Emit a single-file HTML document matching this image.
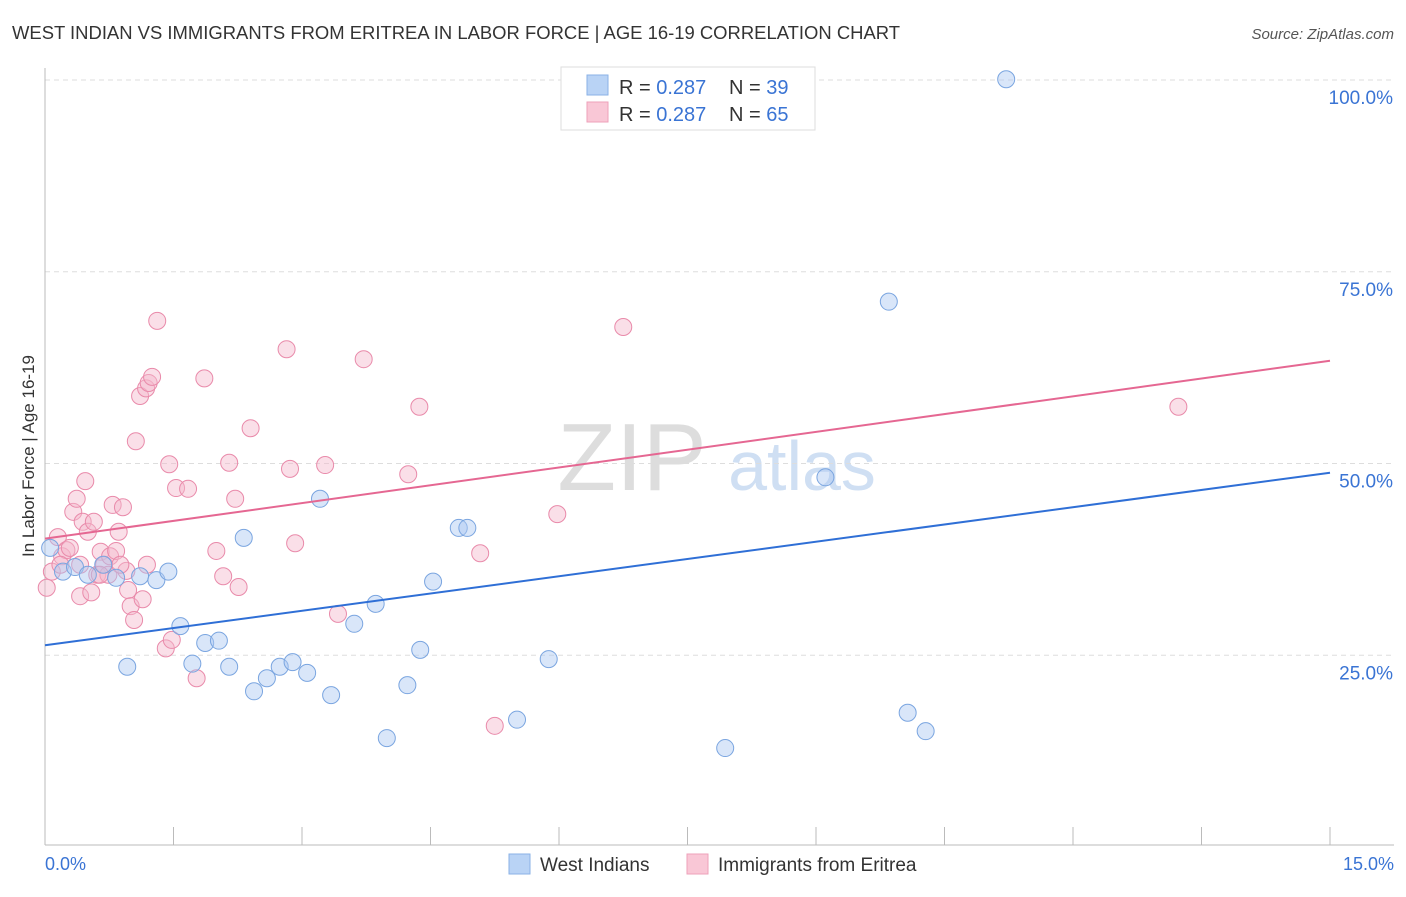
<!DOCTYPE html>
<html><head><meta charset="utf-8"><style>
body{margin:0;background:#fff;font-family:"Liberation Sans",sans-serif;}
svg text{font-family:"Liberation Sans",sans-serif;}
</style></head><body>
<svg id="chart" width="1406" height="892" xmlns="http://www.w3.org/2000/svg">
<text x="12" y="39" font-size="18" fill="#333" textLength="888" lengthAdjust="spacingAndGlyphs">WEST INDIAN VS IMMIGRANTS FROM ERITREA IN LABOR FORCE | AGE 16-19 CORRELATION CHART</text>
<text x="1394" y="39" font-size="15" fill="#555" text-anchor="end" font-style="italic">Source: ZipAtlas.com</text>
<text transform="translate(34,456) rotate(-90)" font-size="17" fill="#333" text-anchor="middle">In Labor Force | Age 16-19</text>
<g>
<text x="632" y="490" font-size="96" fill="#ddd" text-anchor="middle" font-family="Liberation Serif">ZIP</text>
<text x="802" y="490" font-size="70" fill="#cfdff3" text-anchor="middle">atlas</text>
</g>
<g id="grid"></g><g id="axes"></g><g id="pts"></g><g id="lines"></g>
<g>
<rect x="561" y="67" width="254" height="63" fill="#fff" stroke="#ddd"/>
<rect x="587" y="75" width="21" height="20" fill="#b9d3f5" stroke="#8ab2e6"/>
<rect x="587" y="102" width="21" height="20" fill="#f9c7d6" stroke="#eea0ba"/>
<text x="619" y="94" font-size="20" fill="#333">R = <tspan fill="#3a74d4">0.287</tspan></text>
<text x="729" y="94" font-size="20" fill="#333">N = <tspan fill="#3a74d4">39</tspan></text>
<text x="619" y="121" font-size="20" fill="#333">R = <tspan fill="#3a74d4">0.287</tspan></text>
<text x="729" y="121" font-size="20" fill="#333">N = <tspan fill="#3a74d4">65</tspan></text>
</g>
<g>
<rect x="509" y="854" width="21" height="20" fill="#b9d3f5" stroke="#8ab2e6"/>
<text x="540" y="871" font-size="19" fill="#333">West Indians</text>
<rect x="687" y="854" width="21" height="20" fill="#f9c7d6" stroke="#eea0ba"/>
<text x="718" y="871" font-size="19" fill="#333">Immigrants from Eritrea</text>
</g>
</svg>
<script>
const blueX=[0.21,0.35,0.50,0.68,0.83,0.96,1.11,1.30,1.44,1.58,1.72,1.87,2.03,2.15,2.32,2.44,2.59,2.74,2.89,3.06,3.21,3.34,3.61,3.86,3.99,4.23,4.38,4.53,4.83,4.93,5.51,5.88,7.94,9.11,9.85,10.07,10.28,11.22,0.06];
const blueY=[35.9,36.5,35.5,36.8,35.1,23.5,35.3,34.8,35.9,28.8,23.9,26.6,26.9,23.5,40.3,20.3,22.0,23.5,24.1,22.7,45.4,19.8,29.1,31.7,14.2,21.1,25.7,34.6,41.6,41.6,16.6,24.5,12.9,48.2,71.1,17.5,15.1,100.1,39.0];
const pinkX=[0.02,0.08,0.15,0.20,0.25,0.29,0.33,0.37,0.41,0.44,0.47,0.50,0.54,0.57,0.61,0.65,0.69,0.74,0.76,0.79,0.83,0.86,0.91,0.95,0.97,1.00,1.04,1.06,1.11,1.14,1.18,1.21,1.25,1.19,1.31,1.41,1.45,1.48,1.53,1.67,1.77,1.86,2.00,2.08,2.15,2.22,2.26,2.40,2.82,2.86,2.92,3.27,3.42,3.72,4.24,4.37,5.08,5.25,5.98,6.75,13.23,0.41,0.64,0.18,0.88];
const pinkY=[33.8,35.9,40.4,37.9,38.7,39.0,43.7,45.4,32.7,42.4,47.7,41.1,33.2,42.4,35.5,38.5,36.8,35.5,37.9,44.6,38.6,41.1,44.3,36.0,33.5,31.4,29.6,52.9,58.8,32.3,59.8,60.5,61.3,36.8,68.6,25.9,49.9,27.0,46.8,46.7,22.0,61.1,38.6,35.3,50.1,45.4,33.9,54.6,64.9,49.3,39.6,49.8,30.4,63.6,48.6,57.4,38.3,15.8,43.4,67.8,57.4,36.8,35.5,36.8,36.8];
const blueTrend=[26.3,48.8];
const pinkTrend=[40.2,63.4];
const yTicks=[25,50,75,100];
const xTickVals=[0,1.5,3,4.5,6,7.5,9,10.5,12,13.5,15];
const NS="http://www.w3.org/2000/svg";
const sx=v=>45+v*1285/15, sy=v=>847-v*7.67;
function mk(p,t,a){const e=document.createElementNS(NS,t);for(const k in a)e.setAttribute(k,a[k]);document.getElementById(p).appendChild(e);return e;}
yTicks.forEach(t=>{
 const l=mk('grid','line',{x1:45,x2:1394,y1:sy(t),y2:sy(t),stroke:'#ddd','stroke-dasharray':'5,4'});
 
 
 const tx=mk('grid','text',{x:1393,y:sy(t)+24,'font-size':19,fill:'#3a74d4','text-anchor':'end'});tx.textContent=t.toFixed(1)+'%';
 
 
});
let a=mk('axes','line',{x1:45,x2:45,y1:68,y2:845,stroke:'#bbb'});


a=mk('axes','line',{x1:45,x2:1394,y1:845,y2:845,stroke:'#bbb'});


xTickVals.forEach(t=>{const l=mk('axes','line',{x1:sx(t),x2:sx(t),y1:827,y2:845,stroke:'#bbb'});
 
 });
[[0,'0.0%','start',45],[15,'15.0%','end',1394]].forEach(d=>{const t=mk('axes','text',{x:d[3],y:870,'font-size':18,fill:'#3a74d4','text-anchor':d[2]});t.textContent=d[1];
 
 });
function pts(X,Y,f,s,n){X.forEach((x,i)=>{const c=mk('pts','circle',{cx:sx(x),cy:sy(Y[i]),r:8.5,fill:f,'fill-opacity':0.45,stroke:s,'stroke-width':1});
 
 });}
pts(pinkX,pinkY,'#f5b8cb','#e98aaa','eritrea-point');
pts(blueX,blueY,'#aac8f2','#7aa5e0','west-indian-point');
let ln=mk('lines','line',{x1:sx(0),x2:sx(15),y1:sy(blueTrend[0]),y2:sy(blueTrend[1]),stroke:'#2f6fd6','stroke-width':2});


ln=mk('lines','line',{x1:sx(0),x2:sx(15),y1:sy(pinkTrend[0]),y2:sy(pinkTrend[1]),stroke:'#e56792','stroke-width':2});


</script>
</body></html>
